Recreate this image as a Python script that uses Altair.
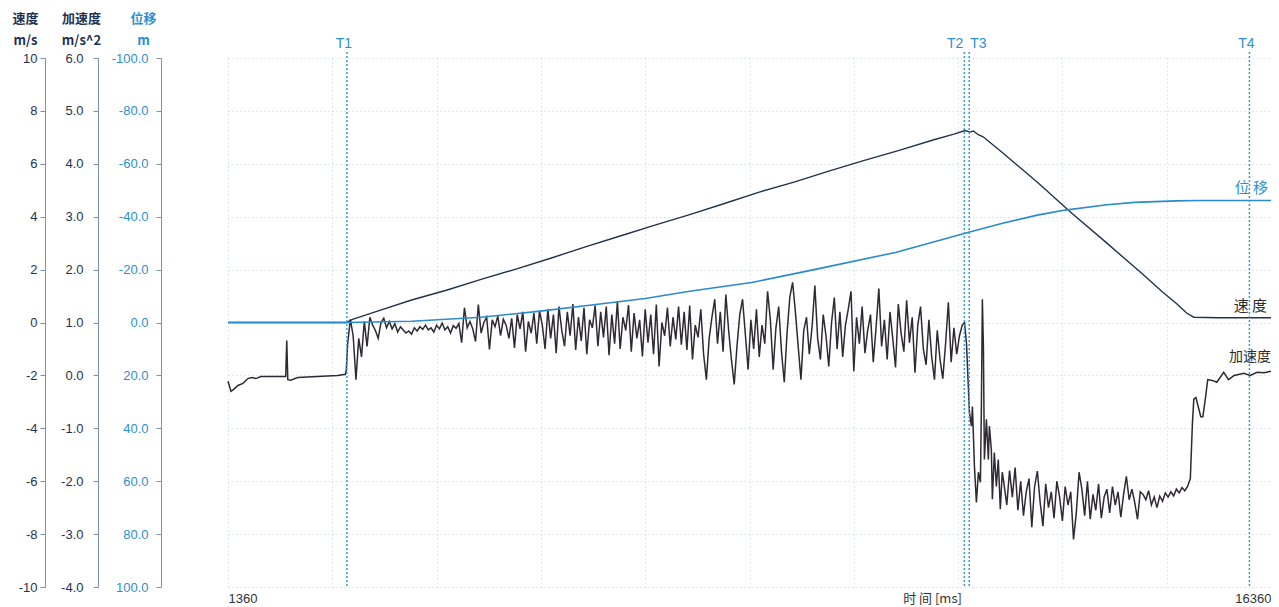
import altair as alt
import pandas as pd

# ---------------- data ----------------
# velocity 速度 (m/s)
vel_t = [1360, 3060, 3150, 3500, 4000, 4500, 5000, 5500, 6000, 6500, 7000, 7500, 8000,
         8500, 9000, 9500, 10000, 10500, 11000, 11500, 11800, 11960, 12030, 12080, 12150,
         12220, 12500, 13000, 13500, 14000, 14500, 14800, 15000, 15150, 15250, 15600, 16360]
vel_v = [0.0, 0.0, 0.12, 0.42, 0.85, 1.22, 1.63, 2.02, 2.43, 2.86, 3.27, 3.68, 4.08,
         4.50, 4.93, 5.31, 5.72, 6.12, 6.50, 6.90, 7.12, 7.26, 7.20, 7.24, 7.10,
         7.02, 6.42, 5.30, 4.12, 3.00, 1.86, 1.15, 0.72, 0.35, 0.20, 0.18, 0.18]

# displacement 位移 (m)
disp_t = [1360, 3060, 4000, 5000, 5820, 6650, 7360, 8000, 8890, 9790, 10960, 12000,
          12500, 13000, 13400, 14000, 14400, 15000, 15300, 16360]
disp_v = [0.0, 0.0, -0.5, -2.0, -4.2, -6.8, -9.1, -11.8, -15.1, -20.0, -26.5, -34.0,
          -37.5, -40.6, -42.5, -44.5, -45.4, -46.0, -46.1, -46.1]

# acceleration 加速度 (m/s^2)
acc_pre_t = [1360, 1403, 1446, 1503, 1575, 1646, 1703, 1761, 1832, 1932, 2076, 2190,
             2205, 2220, 2262, 2362, 2648, 2934, 3049, 3062]
acc_pre_v = [-0.11, -0.30, -0.26, -0.19, -0.15, -0.06, -0.04, -0.06, -0.02, -0.02, -0.02, -0.02,
             0.66, -0.08, -0.09, -0.04, -0.02, 0.0, 0.02, 0.11]

acc_mid_start = 3080
acc_mid_step = 40
acc_mid_v = [
    0.59, 1.06, 0.75, -0.08, 0.70, 0.35, 1.02, 0.55, 1.10, 0.95,
    0.85, 0.70, 1.00, 1.08, 0.90, 1.02, 0.88, 0.98, 0.82, 0.92,
    0.86, 0.80, 0.84, 0.78, 0.90, 0.84, 0.92, 0.87, 0.95, 0.86,
    0.90, 0.82, 0.95, 0.88, 0.99, 0.86, 0.92, 0.80, 0.94, 0.89,
    0.98, 0.62, 1.28, 0.90, 1.02, 0.88, 0.64, 1.34, 0.80, 1.00,
    1.10, 0.49, 1.05, 0.92, 1.12, 0.75, 1.06, 0.95, 0.70, 1.08,
    0.52, 1.15, 0.88, 1.20, 0.45, 1.02, 0.80, 1.18, 0.60, 1.22,
    0.95, 0.50, 1.25, 0.70, 1.15, 0.42, 1.30, 0.85, 0.55, 1.20,
    0.75, 1.35, 0.48, 1.10, 0.65, 1.28, 0.40, 1.05, 0.90, 1.32,
    0.55, 1.20, 0.72, 1.30, 0.38, 1.15, 0.60, 1.40, 0.50, 1.10,
    0.85, 1.33, 0.45, 1.18, 0.70, 1.05, 0.36, 1.25, 0.62, 1.15,
    0.40, 1.34, 0.17, 1.00, 0.75, 1.28, 0.55, 1.10, 0.68, 1.30,
    0.58, 1.20, 0.48, 1.32, 0.30, 0.95, 0.72, 1.25, 0.40, -0.08,
    0.70, 1.10, 1.44, 0.60, 1.20, 0.45, 1.53, 0.85, 0.30, -0.17,
    0.55, 1.15, 1.44, 0.78, 0.11, 1.05, 0.50, 1.25, 0.35, 0.95,
    0.60, 1.59, 1.05, 0.11, 0.90, 1.30, 0.45, -0.13, 0.80, 1.48,
    1.76, 1.20, 0.55, -0.08, 0.85, 1.10, 0.40, 0.92, 1.70, 0.70,
    0.30, 1.15, 0.75, 0.17, 1.00, 1.47, 0.50, 1.20, 0.35, 0.95,
    1.25, 1.59, 0.08, 1.10, 0.60, 1.30, 0.42, 0.85, 1.15, 0.25,
    0.90, 1.64, 0.55, 1.05, 0.30, 1.20, 0.70, 0.15, 1.35, 0.80,
    0.45, 1.42, 0.62, 1.10, 0.05, 0.95, 1.30, 0.50, 0.20, 1.05,
    0.35, -0.08, 0.85, 0.30, -0.06, 0.60, 1.38, 0.25, 0.90, 0.40,
    0.75, 0.95,
]

acc_tr_t = [11952, 11981, 12023, 12052, 12066, 12095, 12123, 12152, 12181, 12195, 12209, 12224,
            12238, 12267, 12295, 12310, 12338, 12353, 12381, 12410, 12438, 12467, 12495]
acc_tr_v = [1.00, 0.60, -0.70, -0.96, -0.59, -1.72, -2.40, -1.83, -2.02, -0.59, 1.44, 0.55,
            -1.59, -0.83, -1.59, -0.96, -1.40, -2.34, -1.46, -2.10, -1.59, -2.53, -1.83]

acc_dec_start = 12520
acc_dec_step = 40
acc_dec_v = [
    -2.05, -2.45, -1.80, -2.30, -1.74, -2.55, -2.00, -2.65, -2.20, -1.95,
    -2.87, -2.10, -1.81, -2.40, -2.85, -2.05, -2.50, -2.20, -2.70, -2.00,
    -2.30, -2.75, -2.10, -2.45, -2.20, -3.10, -2.60, -1.83, -2.15, -2.65,
    -2.00, -2.72, -2.25, -2.55, -2.05, -2.70, -2.30, -2.15, -2.60, -2.10,
    -2.45, -2.20, -2.68, -2.25, -1.91, -2.35, -2.15, -2.40, -2.72, -2.20,
    -2.25, -2.35, -2.18, -2.45, -2.30, -2.50, -2.28, -2.38, -2.22, -2.30,
    -2.20, -2.28, -2.15, -2.22, -2.12, -2.18, -2.10,
]

acc_tail_t = [15200, 15230, 15250, 15280, 15350, 15380, 15420, 15450, 15530, 15580,
              15680, 15750, 15830, 15970, 16060, 16160, 16260, 16360]
acc_tail_v = [-1.95, -0.90, -0.45, -0.42, -0.78, -0.78, -0.40, -0.08, -0.10, -0.13,
              0.06, -0.08, 0.00, 0.04, 0.00, 0.06, 0.05, 0.08]

marker_names = ["T1", "T2", "T3", "T4"]
marker_t = [3070, 11950, 12020, 16050]

series_labels = {"vel": "速 度", "acc": "加速度", "disp": "位 移"}

x_ticks = list(range(1360, 16361, 1500))
vel_ticks = list(range(-10, 11, 2))
acc_ticks = list(range(-4, 7))
disp_ticks = list(range(-100, 101, 20))

# ---------------- tables ----------------
vel_df = pd.DataFrame({"t": vel_t, "v": vel_v})
disp_df = pd.DataFrame({"t": disp_t, "v": disp_v})
acc_mid_t = [acc_mid_start + acc_mid_step * i for i in range(len(acc_mid_v))]
acc_dec_t = [acc_dec_start + acc_dec_step * i for i in range(len(acc_dec_v))]
acc_df = pd.DataFrame({
    "t": acc_pre_t + acc_mid_t + acc_tr_t + acc_dec_t + acc_tail_t,
    "v": acc_pre_v + acc_mid_v + acc_tr_v + acc_dec_v + acc_tail_v,
})
mk_df = pd.DataFrame({"name": marker_names, "t": marker_t})

vel_lab = pd.DataFrame({"t": [vel_t[-1]], "v": [vel_v[-1]], "label": [series_labels["vel"]]})
acc_lab = pd.DataFrame({"t": [acc_df["t"].iloc[-1]], "v": [acc_df["v"].iloc[-1]],
                        "label": [series_labels["acc"]]})
disp_lab = pd.DataFrame({"t": [disp_t[-1]], "v": [disp_v[-1]], "label": [series_labels["disp"]]})

# ---------------- style ----------------
W, H = 1043, 529
PAD_L, PAD_T, PAD_B = 220, 50, 20
FONT = "Liberation Sans, Noto Sans CJK SC, sans-serif"
CJK = "Noto Sans CJK SC, Liberation Sans, sans-serif"
VEL = "#22324a"
ACC = "#2f2934"
DISP = "#2a8bcc"
TCOL = "#3a9ad9"
GRID = "#c3d0dc"
AXL = "#7d93aa"
DARK = "#1f3350"
BLUE = "#2d8fd0"

xs = alt.Scale(domain=[1360, 16360], nice=False, zero=False)

x_axis = alt.Axis(
    values=x_ticks, format="d",
    labelExpr="(datum.value == 1360 || datum.value == 16360) ? datum.label : ''",
    labelFlush=True, labelOverlap=False, grid=True, gridColor=GRID, gridDash=[1, 3],
    domain=False, ticks=False, tickSize=0, labelPadding=5, labelFontSize=13,
    labelColor="#333333", labelFont=FONT,
    title="时 间 [ms]", titleX=704, titleY=11, titleAlign="center", titleBaseline="middle",
    titleFont=CJK, titleFontSize=13, titleFontWeight="normal", titleColor="#333333",
)


def y_axis(values, fmt, offset, pad, title, tx, color, grid=False):
    return alt.Axis(
        values=values, format=fmt, orient="left", offset=offset, grid=grid,
        labelExpr="replace(datum.label, '\u2212', '-')",
        gridColor=GRID, gridDash=[1, 3], domainColor=AXL, tickColor=AXL, tickSize=5,
        labelPadding=pad, labelColor=color, labelFontSize=13, labelFont=FONT,
        labelOverlap=False,
        title=title, titleAngle=0, titleX=tx, titleY=18 - (8 + PAD_T), titleAlign="center",
        titleBaseline="middle", titleLineHeight=22, titleFont=CJK, titleFontSize=13,
        titleFontWeight="bold", titleColor=color,
    )


vel_axis = y_axis(vel_ticks, "d", PAD_L + 8 - 45, 3, ["速度", "m/s"], -20, DARK, grid=True)
acc_axis = y_axis(acc_ticks, ".1f", PAD_L + 8 - 98, 10, ["加速度", "m/s^2"], -17, DARK)
disp_axis = y_axis(disp_ticks, ".1f", PAD_L + 8 - 161, 8, ["位移", "m"], -18, BLUE)

vel_scale = alt.Scale(domain=[-10, 10], nice=False, zero=False)
acc_scale = alt.Scale(domain=[-4, 6], nice=False, zero=False)
disp_scale = alt.Scale(domain=[-100, 100], nice=False, zero=False, reverse=True)

# every layer carries the same x axis definition so the shared axis merges cleanly
xe = alt.X("t:Q", scale=xs, axis=x_axis)

acc_line = alt.Chart(acc_df).mark_line(color=ACC, strokeWidth=1.5, strokeJoin="miter").encode(
    x=xe, y=alt.Y("v:Q", scale=acc_scale, axis=acc_axis))
acc_text = alt.Chart(acc_lab).mark_text(
    align="right", baseline="middle", dx=0, dy=-14, font=CJK, fontSize=14, color="#2b2b2b"
).encode(x=xe, y=alt.Y("v:Q", scale=acc_scale, axis=None), text="label:N")

vel_line = alt.Chart(vel_df).mark_line(color=VEL, strokeWidth=1.4).encode(
    x=xe, y=alt.Y("v:Q", scale=vel_scale, axis=vel_axis))
vel_text = alt.Chart(vel_lab).mark_text(
    align="right", baseline="middle", dx=-4, dy=-12, font=CJK, fontSize=15, color="#2b2b2b"
).encode(x=xe, y=alt.Y("v:Q", scale=vel_scale, axis=None), text="label:N")

disp_line = alt.Chart(disp_df).mark_line(color=DISP, strokeWidth=1.6).encode(
    x=xe, y=alt.Y("v:Q", scale=disp_scale, axis=disp_axis))
disp_text = alt.Chart(disp_lab).mark_text(
    align="right", baseline="middle", dx=-3, dy=-13, font=CJK, fontSize=15, color=BLUE
).encode(x=xe, y=alt.Y("v:Q", scale=disp_scale, axis=None), text="label:N")

mk_rules = alt.Chart(mk_df).mark_rule(color=TCOL, strokeWidth=1.5, strokeDash=[2, 2]).encode(
    x=xe, y=alt.value(-6), y2=alt.value(H))
mk_center = alt.Chart(mk_df).mark_text(
    align="center", baseline="middle", dx=-3, font=FONT, fontSize=14, color=BLUE
).encode(x=xe, y=alt.value(-14), text="name:N").transform_filter(
    "datum.name == 'T1' || datum.name == 'T4'")
mk_left = alt.Chart(mk_df).mark_text(
    align="right", baseline="middle", dx=-1, font=FONT, fontSize=14, color=BLUE
).encode(x=xe, y=alt.value(-14), text="name:N").transform_filter("datum.name == 'T2'")
mk_right = alt.Chart(mk_df).mark_text(
    align="left", baseline="middle", dx=1, font=FONT, fontSize=14, color=BLUE
).encode(x=xe, y=alt.value(-14), text="name:N").transform_filter("datum.name == 'T3'")

chart = alt.layer(
    acc_line, vel_line, disp_line, vel_text, acc_text, disp_text,
    mk_rules, mk_center, mk_left, mk_right,
).resolve_scale(y="independent").properties(
    width=W, height=H,
    autosize=alt.AutoSizeParams(type="none"),
    padding={"left": PAD_L, "top": PAD_T, "right": 0, "bottom": PAD_B},
    background="white",
).configure_view(stroke=None)

chart.save("out.html", embed_options={"renderer": "svg", "actions": False})
